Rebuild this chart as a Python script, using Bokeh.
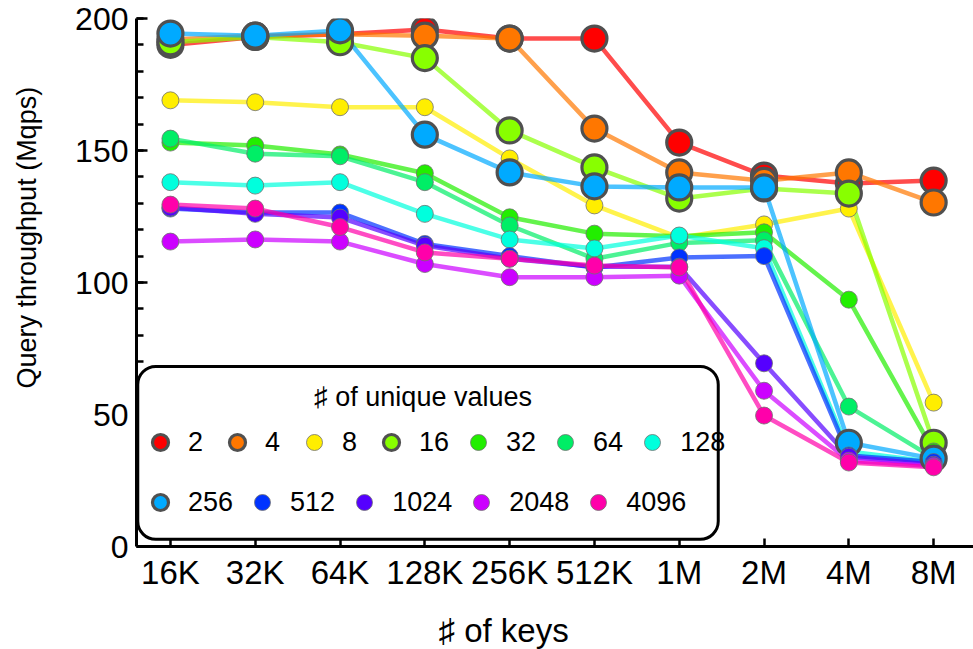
from bokeh.plotting import figure
from bokeh.models import (Legend, LegendItem, Label, BoxAnnotation, FixedTicker,
                          Range1d, ColumnDataSource, Title)
from bokeh.embed import file_html
from bokeh.resources import INLINE

# ---------------- data ----------------
key_labels = ["16K", "32K", "64K", "128K", "256K", "512K", "1M", "2M", "4M", "8M"]
unique_values = ["2", "4", "8", "16", "32", "64", "128", "256", "512", "1024", "2048", "4096"]

tp_2 = [190, 193, 194, 195.8, 192.4, 192.4, 153, 140.5, 137.5, 138.6]
tp_4 = [192, 193.5, 194, 193.5, 192.4, 158.3, 141.7, 138.5, 141.7, 130.3]
tp_8 = [169, 168.3, 166.4, 166.4, 147, 129.2, 117, 122, 128, 54.5]
tp_16 = [191, 193, 191, 185, 157.6, 143.6, 131.8, 135.6, 133.7, 39.3]
tp_32 = [153, 151.9, 148.5, 141.4, 124.7, 118.5, 117.5, 119, 93.5, 36]
tp_64 = [154.5, 148.8, 147.8, 138, 121.6, 109, 115, 116, 53, 33.5]
tp_128 = [138, 136.7, 138, 126, 116.3, 112.9, 117.8, 113, 36, 32]
tp_256 = [194.3, 193.5, 195.5, 156, 141.7, 136.4, 136, 136, 39.3, 33.3]
tp_512 = [128, 126.5, 126.5, 114.6, 110, 105.7, 109.5, 110, 34.5, 32]
tp_1024 = [128.4, 126, 124.6, 114, 109, 106, 106, 69.4, 34, 31]
tp_2048 = [115.5, 116.3, 115.5, 107, 102, 102, 102.6, 59, 32.5, 30.5]
tp_4096 = [129.5, 128, 121, 111.4, 109, 106.4, 105.7, 49.6, 31.8, 30]

series = [tp_2, tp_4, tp_8, tp_16, tp_32, tp_64, tp_128, tp_256,
          tp_512, tp_1024, tp_2048, tp_4096]

x_title = "\u266f of keys"
y_title = "Query throughput (Mqps)"
legend_title = "\u266f of unique values"

# ---------------- styles ----------------
colors = ["#ff0000", "#ff7700", "#ffee00", "#88ff00", "#22ee00", "#00ee66",
          "#00ffdd", "#00aaff", "#0033ff", "#5500ff", "#cc00ff", "#ff00aa"]
big = {"2", "4", "16", "256"}
FONT = "Liberation Sans"

p = figure(width=973, height=649, output_backend="svg", toolbar_location=None,
           x_range=Range1d(-0.4, 9.47), y_range=Range1d(0, 200),
           min_border_left=136, min_border_right=0, min_border_top=18,
           min_border_bottom=103)
p.outline_line_color = None
p.grid.visible = False
p.background_fill_color = "white"

xs = list(range(len(key_labels)))

# lines first
for vals, c in zip(series, colors):
    p.line(xs, vals, line_color=c, line_width=4.5, line_alpha=0.7)

# markers
scatter_r = []
for name, vals, c in zip(unique_values, series, colors):
    src = ColumnDataSource(dict(x=xs, y=vals))
    if name in big:
        r = p.scatter("x", "y", source=src, size=25, fill_color=c,
                      line_color="#505050", line_width=3.2)
    else:
        r = p.scatter("x", "y", source=src, size=17, fill_color=c,
                      line_color="#707070", line_width=1, line_alpha=0.8)
    scatter_r.append(r)

# axes
xa = p.xaxis[0]
xa.ticker = FixedTicker(ticks=xs)
xa.major_label_overrides = {i: lab for i, lab in enumerate(key_labels)}
xa.major_tick_in = 8
xa.major_tick_out = 0
xa.minor_tick_line_color = None
xa.axis_line_width = 3
xa.axis_line_color = "black"
xa.major_tick_line_color = "black"
xa.major_tick_line_width = 2.5
xa.major_label_text_font = FONT
xa.major_label_text_font_size = "33px"
xa.major_label_text_color = "black"
xa.major_label_standoff = 7

ya = p.yaxis[0]
ya.ticker = FixedTicker(ticks=[0, 50, 100, 150, 200],
                        minor_ticks=list(range(0, 201, 10)))
ya.major_tick_in = 11
ya.major_tick_out = 0
ya.minor_tick_in = 7
ya.minor_tick_out = 0
ya.axis_line_width = 3
ya.axis_line_color = "black"
ya.major_tick_line_color = "black"
ya.minor_tick_line_color = "black"
ya.major_tick_line_width = 2.5
ya.minor_tick_line_width = 2.5
ya.major_label_text_font = FONT
ya.major_label_text_font_size = "32px"
ya.major_label_text_color = "black"
ya.major_label_standoff = 8

# axis titles, offset along the axis as in the reference
has_pad = "padding" in Title.properties()
xt_kw = dict(text=x_title, align="left", offset=302,
             text_font=FONT, text_font_size="33px",
             text_font_style="normal", text_color="black")
yt_kw = dict(text=y_title, align="left", offset=158,
             text_font=FONT, text_font_size="27px",
             text_font_style="normal", text_color="black")
if has_pad:
    xt_kw.update(standoff=0, padding=dict(left=0, right=0, top=16, bottom=0))
    yt_kw.update(standoff=0, padding=dict(left=0, right=0, top=0, bottom=31))
else:
    xt_kw.update(standoff=4)
    yt_kw.update(standoff=44)
p.add_layout(Title(**xt_kw), "below")
p.add_layout(Title(**yt_kw), "left")

# legend frame
box = BoxAnnotation(left=-0.385, right=6.46, top=68.2, bottom=2.7,
                    fill_color="white", fill_alpha=1.0, line_color="black",
                    line_alpha=1.0, line_width=3, border_radius=18,
                    level="annotation")
p.add_layout(box)

p.add_layout(Label(x=2.98, y=56.8, text=legend_title,
                   text_align="center", text_baseline="middle",
                   text_font=FONT, text_font_size="27px", text_color="black"))

def make_legend(idx, loc):
    items = [LegendItem(label=unique_values[i], renderers=[scatter_r[i]]) for i in idx]
    return Legend(items=items, orientation="horizontal", location=loc,
                  border_line_color=None, background_fill_alpha=0,
                  padding=0, margin=0, spacing=9, label_standoff=8,
                  glyph_width=40, glyph_height=40,
                  label_text_font=FONT, label_text_font_size="27px",
                  label_text_color="black", label_text_baseline="middle")

p.add_layout(make_legend(range(0, 7), (4, 84)))
p.add_layout(make_legend(range(7, 12), (4, 24)))

open("out.html", "w").write(file_html(p, INLINE))
